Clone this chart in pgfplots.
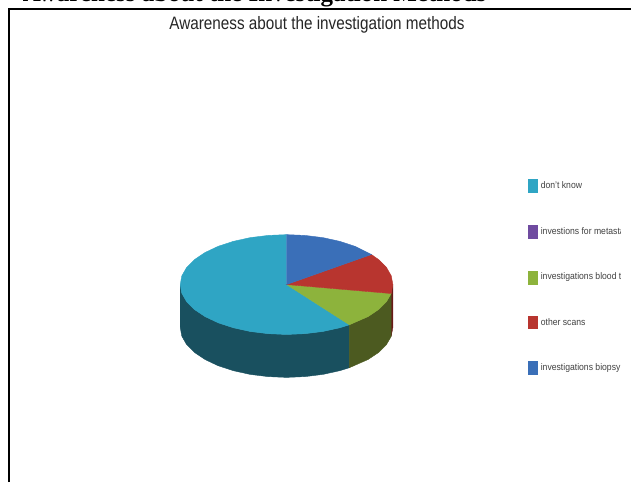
\documentclass[border=0pt]{standalone}
\usepackage{pgfplots}
\pgfplotsset{compat=1.18}
\usepackage{fontspec}
\setmainfont{Liberation Sans}
\newfontfamily\headfont{Liberation Serif}
\definecolor{tealtop}{HTML}{2FA5C4}
\definecolor{tealside}{HTML}{19505F}
\definecolor{greentop}{HTML}{8DB33C}
\definecolor{greenside}{HTML}{4C5A20}
\definecolor{redtop}{HTML}{B8352F}
\definecolor{redside}{HTML}{6A1A18}
\definecolor{bluetop}{HTML}{3A6FB8}
\definecolor{purplekey}{HTML}{6F4BA0}
\newcommand{\keytext}[2]{\node[anchor=west,inner sep=0pt,text=black!75,xscale=0.9] at (axis cs:541.5,#1) {\fontsize{9.6pt}{10pt}\selectfont #2};}
\begin{document}
\begin{tikzpicture}[x=1pt,y=1pt]
\begin{axis}[
  at={(0,0)},anchor=south west,
  width=632pt,height=483pt,scale only axis,
  xmin=0,xmax=632,ymin=0,ymax=483,y dir=reverse,
  hide axis,clip=false]
% side walls of the disc
\addplot[fill=tealside,draw=tealside,line width=0.4pt] coordinates {
 (349.9,325.3)(340.3,328.3)(323.4,332)(305.5,334.2)(287,335)(268.5,334.2)(250.6,332)(233.8,328.3)(218.5,323.3)(205.4,317.1)(194.8,310)(186.9,302.1)(182.1,293.7)(180.5,285)
 (180.5,328)(182.1,336.7)(186.9,345.1)(194.8,353)(205.4,360.1)(218.5,366.3)(233.8,371.3)(250.6,375)(268.5,377.2)(287,378)(305.5,377.2)(323.4,375)(340.3,371.3)(349.9,368.3)} --cycle;
\addplot[fill=redside,draw=redside,line width=0.4pt] coordinates {
 (393.5,285)(391.8,294)(391.8,337)(393.5,328)} --cycle;
\addplot[fill=greenside,draw=greenside,line width=0.4pt] coordinates {
 (391.8,294)(387.1,302.1)(379.2,310)(368.6,317.1)(349.9,325.3)
 (349.9,368.3)(368.6,360.1)(379.2,353)(387.1,345.1)(391.8,337)} --cycle;
% top face of the disc
\addplot[fill=tealtop,draw=tealtop,line width=0.4pt] coordinates {
 (287,285)(349.9,325.3)(340.3,328.3)(323.4,332)(305.5,334.2)(287,335)(268.5,334.2)(250.6,332)(233.8,328.3)(218.5,323.3)(205.4,317.1)(194.8,310)(186.9,302.1)(182.1,293.7)(180.5,285)(182.1,276.3)(186.9,267.9)(194.8,260)(205.4,252.9)(218.5,246.7)(233.8,241.7)(250.6,238)(268.5,235.8)(287,235)} --cycle;
\addplot[fill=greentop,draw=greentop,line width=0.4pt] coordinates {
 (287,285)(391.8,294)(387.1,302.1)(379.2,310)(368.6,317.1)(349.9,325.3)} --cycle;
\addplot[fill=redtop,draw=redtop,line width=0.4pt] coordinates {
 (287,285)(372,254.9)(379.2,260)(387.1,267.9)(391.9,276.3)(393.5,285)(391.8,294)} --cycle;
\addplot[fill=bluetop,draw=bluetop,line width=0.4pt] coordinates {
 (287,285)(287,235)(305.5,235.8)(323.4,238)(340.3,241.7)(355.5,246.7)(372,254.9)} --cycle;
% legend keys
\addplot[fill=tealtop,draw=none] coordinates {(528.5,179)(538.5,179)(538.5,193)(528.5,193)} --cycle;
\addplot[fill=purplekey,draw=none] coordinates {(528.5,225)(538.5,225)(538.5,239)(528.5,239)} --cycle;
\addplot[fill=greentop,draw=none] coordinates {(528.5,271)(538.5,271)(538.5,285)(528.5,285)} --cycle;
\addplot[fill=redtop,draw=none] coordinates {(528.5,316)(538.5,316)(538.5,330)(528.5,330)} --cycle;
\addplot[fill=bluetop,draw=none] coordinates {(528.5,362)(538.5,362)(538.5,376)(528.5,376)} --cycle;
% frame
\addplot[black,line width=2pt] coordinates {(9.5,483)(9.5,9.5)(632,9.5)};
% legend entries, cut at the edge of the plot's box
\begin{scope}
\clip (axis cs:530,150) rectangle (axis cs:621,400);
\keytext{185.5}{don't know}
\keytext{231.5}{investions for metastasis}
\keytext{277.5}{investigations blood test}
\keytext{323}{other scans}
\keytext{369}{investigations biopsy}
\end{scope}
% chart title
\node[inner sep=0pt,anchor=center,xscale=0.85,text=black!85] at (axis cs:317.5,25) {\fontsize{18pt}{20pt}\selectfont Awareness about the investigation methods};
% caption line above the box, cut by the top edge
\begin{scope}
\clip (axis cs:0,0) rectangle (axis cs:632,8);
\node[inner sep=0pt,anchor=base,text=black] at (axis cs:255,1.5) {\headfont\bfseries\fontsize{25pt}{26pt}\selectfont Awareness about the Investigation Methods};
\end{scope}
\end{axis}
\end{tikzpicture}
\end{document}
